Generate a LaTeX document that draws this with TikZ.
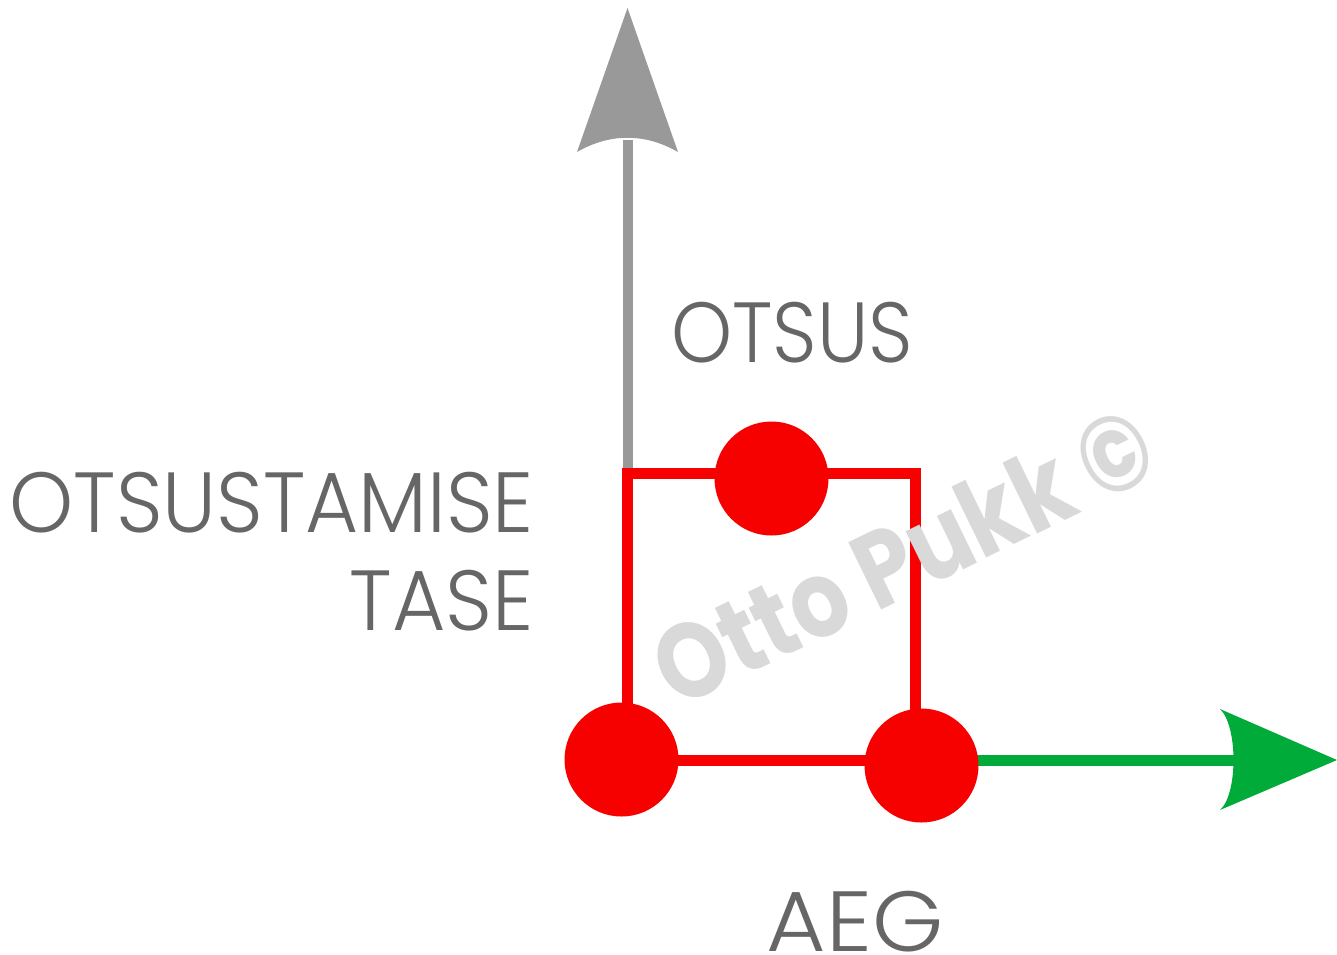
\documentclass[tikz,border=0pt]{standalone}
\usepackage{fontspec}
\setmainfont{Poppins Light}
\newfontfamily\wmfont{Poppins Bold}
\definecolor{axisgray}{HTML}{999999}
\definecolor{txtgray}{HTML}{666666}
\definecolor{ptred}{HTML}{F70000}
\definecolor{axgreen}{HTML}{00AB3A}
\definecolor{wmgray}{HTML}{D9D9D9}
\begin{document}
\begin{tikzpicture}[x=0.75pt,y=-0.75pt,
  lbl/.style={inner sep=0pt,text=txtgray,font=\fontsize{64}{70}\selectfont},
  dot/.style={circle,fill=ptred,minimum size=85.5pt,inner sep=0pt},
  redline/.style={draw=ptred,line width=8.25pt},
]
\useasboundingbox (0,0) rectangle (1337,954);
% axes
\coordinate (o) at (627.5,473);
\coordinate (ytip) at (627.5,8);
\coordinate (xtip) at (1337,760);
\fill[axisgray] (ytip) -- (678,152) .. controls (645,133) and (610,133) .. (577,152) -- cycle;
\draw[axisgray,line width=7.5pt] (o) -- (627.5,140);
% red square
\coordinate (tl) at (627.5,473);
\coordinate (tr) at (915.5,473);
\coordinate (br) at (915.5,760);
\coordinate (bl) at (627.5,760);
\draw[redline,line join=miter] (bl) -- (tl) -- (tr) -- (br);
\draw[redline] (621.5,760) -- (921.5,760);
% green axis
\draw[axgreen,line width=8.25pt] (921.5,760) -- (1236,760);
\fill[axgreen] (xtip) -- (1220,709) .. controls (1238,726) and (1238,794) .. (1220,810) -- cycle;
% dots
\node[dot] (top) at (771.5,478.5) {};
\node[dot] (left) at (621.5,759.5) {};
\node[dot] (right) at (921.5,765.5) {};
% labels
\node[lbl,anchor=base] (otsus) at (792,362) {\scalebox{0.91}[1]{OTSUS}};
\node[lbl,anchor=base] (aeg) at (855,951) {\scalebox{1.07}[1]{AEG}};
\node[lbl,anchor=base east] (ot1) at (534,532) {\scalebox{0.955}[1]{OTSUSTAMISE}};
\node[lbl,anchor=base east] (ot2) at (534,630) {\scalebox{0.96}[1]{TASE}};
% watermark
\node[rotate=26,text=wmgray,font=\wmfont\fontsize{80}{86}\selectfont,inner sep=0pt] (wm) at (903,556) {\scalebox{0.85}[1]{Otto Pukk ©}};
\end{tikzpicture}
\end{document}
